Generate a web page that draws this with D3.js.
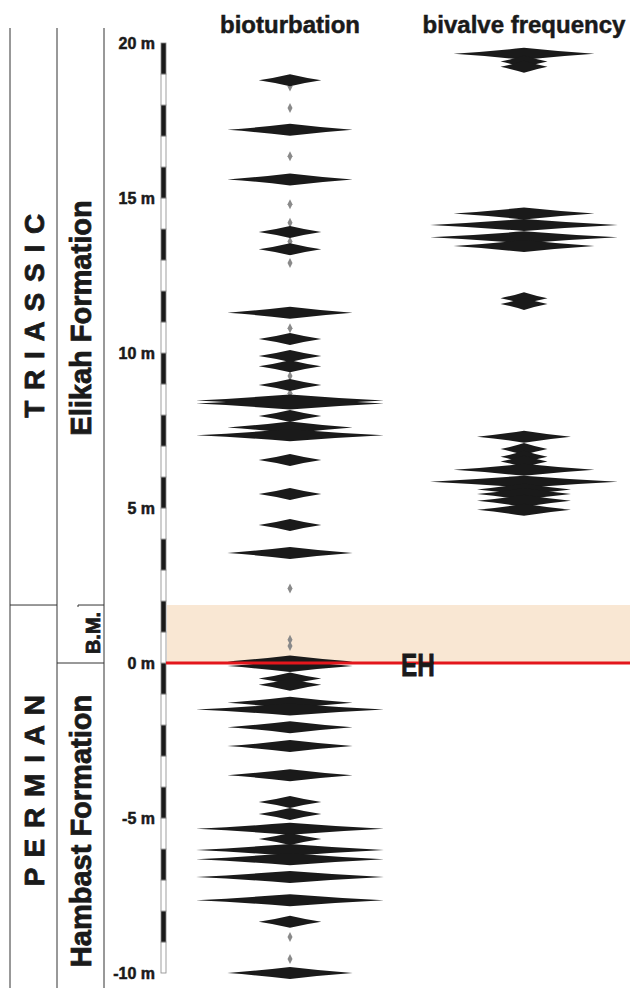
<!DOCTYPE html>
<html>
<head>
<meta charset="utf-8">
<script src="https://cdn.jsdelivr.net/npm/d3@7"></script>
<style>
  body { margin: 0; background: #fff; }
  text { font-family: "Liberation Sans", Arial, Helvetica, sans-serif; font-weight: 700; fill: #1a1a1a; stroke: #1a1a1a; stroke-width: 0.5px; }
</style>
</head>
<body>
<svg id="chart"></svg>
<script>
// depth (m) and intensity level; level 0 = trace (small grey mark)
const bioDepth = [18.6, 17.9, 16.35, 14.8, 14.2, 13.6, 12.9, 10.8, 9.26, 8.7, 2.4, 0.75, 0.55, -8.84, -9.55,
                  18.8, 17.2, 15.6, 13.9, 13.35, 11.3, 10.45, 9.9, 9.57, 8.97, 8.47, 8.37, 7.97, 7.6, 7.35,
                  6.55, 5.45, 4.45, 3.55, 0.05, -0.1, -0.5, -0.7, -1.28, -1.5, -2.07, -2.68, -3.62,
                  -4.48, -4.87, -5.35, -5.68, -6.03, -6.33, -6.9, -7.65, -8.35, -10.0];
const bioLevel = [0, 0, 0, 0, 0, 0, 0, 0, 0, 0, 0, 0, 0, 0, 0,
                  1, 2, 2, 1, 1, 2, 1, 1, 1, 1, 3, 3, 1, 2, 3,
                  1, 1, 1, 2, 2, 2, 1, 1, 2, 3, 2, 2, 2,
                  1, 1, 3, 1, 3, 3, 3, 3, 1, 2];

const bivDepth = [19.65, 19.4, 19.23, 14.5, 14.13, 13.73, 13.45, 11.77, 11.58,
                  7.3, 6.9, 6.65, 6.5, 6.23, 5.85, 5.6, 5.45, 5.23, 4.94];
const bivLevel = [3, 1, 1, 3, 4, 4, 3, 1, 1,
                  2, 1, 1, 1, 3, 4, 2, 2, 2, 2];

const tickValues = [20, 15, 10, 5, 0, -5, -10];
const headers = ["bioturbation", "bivalve frequency"];
const bmTop = 1.87;   // top of the boundary member
const ehLevel = 0;    // extinction horizon

const WIDTH = 630, HEIGHT = 988;
const svg = d3.select("#chart").attr("width", WIDTH).attr("height", HEIGHT);

const y = d3.scaleLinear().domain([-10, 20]).range([973, 43]);
const bioW = d3.scaleLinear().domain([0, 3]).range([0, 94]);
const bivW = d3.scaleLinear().domain([0, 4]).range([0, 94]);
const bioX = 290, bivX = 524;

// boundary member band and extinction horizon
svg.append("rect")
  .attr("x", 167).attr("width", WIDTH - 167)
  .attr("y", y(bmTop)).attr("height", y(ehLevel) - y(bmTop))
  .attr("fill", "#f9e7d3");

// stratigraphic columns
const lines = svg.append("g").attr("stroke", "#333").attr("stroke-width", 1).attr("fill", "none");
[10, 57, 104].forEach(x => {
  lines.append("line").attr("x1", x).attr("x2", x).attr("y1", 28).attr("y2", HEIGHT);
});
lines.append("line").attr("x1", 10).attr("x2", 57).attr("y1", y(bmTop)).attr("y2", y(bmTop));
lines.append("line").attr("x1", 57).attr("x2", 104).attr("y1", y(ehLevel)).attr("y2", y(ehLevel));
lines.append("path").attr("d", `M78,${y(bmTop) + 2}V${y(bmTop)}H104`);

function vtext(x, yc, size, str, spacing) {
  svg.append("text")
    .attr("transform", `translate(${x},${yc}) rotate(-90)`)
    .attr("text-anchor", "middle")
    .style("font-size", size + "px")
    .style("letter-spacing", (spacing || 0) + "px")
    .style("stroke-width", "0.8px")
    .text(str);
}
vtext(44, 315, 28, "T R I A S S I C", 1.5);
vtext(44, 790, 28, "P E R M I A N", 1.5);
vtext(91, 318, 29, "Elikah Formation");
vtext(91, 831, 29, "Hambast Formation");
vtext(100, 633, 20, "B.M.");

// metre bar: alternating 1 m segments
const segs = d3.range(-10, 20);
svg.append("g").selectAll("rect").data(segs).join("rect")
  .attr("x", 161).attr("width", 5)
  .attr("y", d => y(d + 1)).attr("height", d => y(d) - y(d + 1))
  .attr("fill", d => ((20 - d) % 2 === 1) ? "#1a1a1a" : "#fff")
  .attr("stroke", "#888").attr("stroke-width", 0.8);

svg.append("g").selectAll("text").data(tickValues).join("text")
  .attr("x", 155).attr("y", d => y(d)).attr("dy", "0.36em")
  .attr("text-anchor", "end")
  .style("font-size", "16px")
  .text(d => d + " m");

// headers
svg.selectAll(".hdr").data(headers).join("text")
  .attr("class", "hdr")
  .attr("x", (d, i) => i === 0 ? bioX : bivX).attr("y", 33)
  .attr("text-anchor", "middle")
  .style("font-size", "24px")
  .text(d => d);

// spindle-shaped marker
function spindle(cx, cy, w, h) {
  return `M${cx - w},${cy}` +
    `Q${cx - w * 0.5},${cy - h * 0.38} ${cx},${cy - h}` +
    `Q${cx + w * 0.5},${cy - h * 0.38} ${cx + w},${cy}` +
    `Q${cx + w * 0.5},${cy + h * 0.38} ${cx},${cy + h}` +
    `Q${cx - w * 0.5},${cy + h * 0.38} ${cx - w},${cy}Z`;
}
function trace(cx, cy) {
  return `M${cx - 2.5},${cy}L${cx},${cy - 5}L${cx + 2.5},${cy}L${cx},${cy + 5}Z`;
}

const bio = bioDepth.map((d, i) => ({ depth: d, level: bioLevel[i] }));
const biv = bivDepth.map((d, i) => ({ depth: d, level: bivLevel[i] }));

svg.append("g").selectAll("path").data(bio).join("path")
  .attr("d", d => d.level === 0 ? trace(bioX, y(d.depth)) : spindle(bioX, y(d.depth), bioW(d.level), 6))
  .attr("fill", d => d.level === 0 ? "#8a8a8a" : "#1a1a1a");

svg.append("g").selectAll("path").data(biv).join("path")
  .attr("d", d => spindle(bivX, y(d.depth), bivW(d.level), 6))
  .attr("fill", "#1a1a1a");

// extinction horizon line
svg.append("line")
  .attr("x1", 166).attr("x2", WIDTH)
  .attr("y1", y(ehLevel)).attr("y2", y(ehLevel))
  .attr("stroke", "#e3161c").attr("stroke-width", 3);

svg.append("text")
  .attr("transform", `translate(401,${y(ehLevel) + 13}) scale(0.76,1)`)
  .style("font-size", "32px")
  .style("stroke-width", "0.8px")
  .text("EH");
</script>
</body>
</html>
